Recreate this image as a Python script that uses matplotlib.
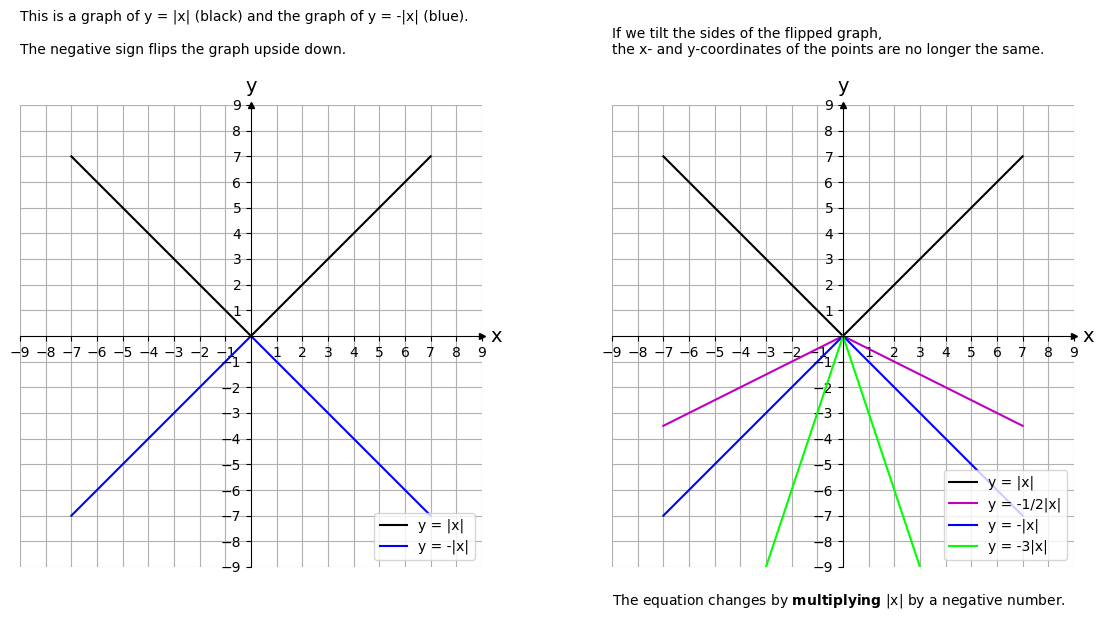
import numpy as np
import matplotlib
matplotlib.use("Agg")
import matplotlib.pyplot as plt

# points used for every graph
x_pts = [-7, 0, 7]
abs_x = [7, 0, 7]
neg_abs_x = [-7, 0, -7]
neg_half_abs_x = [-3.5, 0, -3.5]
neg_three_abs_x = [-21, 0, -21]

ticks = [t for t in range(-9, 10) if t != 0]


def setup_axes(ax):
    ax.set_xlim(-9, 9)
    ax.set_ylim(-9, 9)
    ax.spines['left'].set_position('zero')
    ax.spines['bottom'].set_position('zero')
    ax.spines['right'].set_visible(False)
    ax.spines['top'].set_visible(False)
    ax.set_xticks(ticks)
    ax.set_yticks(ticks)
    ax.grid(True, color='#b0b0b0', linewidth=0.8)
    ax.set_axisbelow(True)
    ax.plot(1, 0, '>k', transform=ax.get_yaxis_transform(), clip_on=False, markersize=4)
    ax.plot(0, 1, '^k', transform=ax.get_xaxis_transform(), clip_on=False, markersize=4)
    ax.annotate('x', xy=(1, 0), xycoords=ax.get_yaxis_transform(),
                xytext=(14, 0), textcoords='offset pixels', fontsize=14,
                ha='center', va='center')
    ax.annotate('y', xy=(0, 1), xycoords=ax.get_xaxis_transform(),
                xytext=(0, 19), textcoords='offset pixels', fontsize=14,
                ha='center', va='center')


fig = plt.figure(figsize=(10.98, 6.21), dpi=100)
W, H = 1098, 621

ax1 = fig.add_axes([20 / W, 1 - 567 / H, 462 / W, 462 / H])
ax2 = fig.add_axes([612 / W, 1 - 567 / H, 462 / W, 462 / H])

setup_axes(ax1)
ax1.plot(x_pts, abs_x, color='k', label='y = |x|')
ax1.plot(x_pts, neg_abs_x, color='b', label='y = -|x|')
ax1.legend(loc='lower right')

setup_axes(ax2)
ax2.plot(x_pts, abs_x, color='k', label='y = |x|')
ax2.plot(x_pts, neg_half_abs_x, color='m', label='y = -1/2|x|')
ax2.plot(x_pts, neg_abs_x, color='b', label='y = -|x|')
ax2.plot(x_pts, neg_three_abs_x, color='lime', label='y = -3|x|')
ax2.legend(loc='lower right')

fig.text(20 / W, 1 - 17 / H,
         'This is a graph of y = |x| (black) and the graph of y = -|x| (blue).',
         va='center', fontsize=10)
fig.text(20 / W, 1 - 50 / H, 'The negative sign flips the graph upside down.',
         va='center', fontsize=10)
fig.text(612 / W, 1 - 42 / H,
         'If we tilt the sides of the flipped graph,\n'
         'the x- and y-coordinates of the points are no longer the same.',
         va='center', fontsize=10)
fig.text(612 / W, 1 - 601 / H,
         r'The equation changes by $\bf{multiplying}$ |x| by a negative number.',
         va='center', fontsize=10)

fig.savefig('out.png', dpi=100)
